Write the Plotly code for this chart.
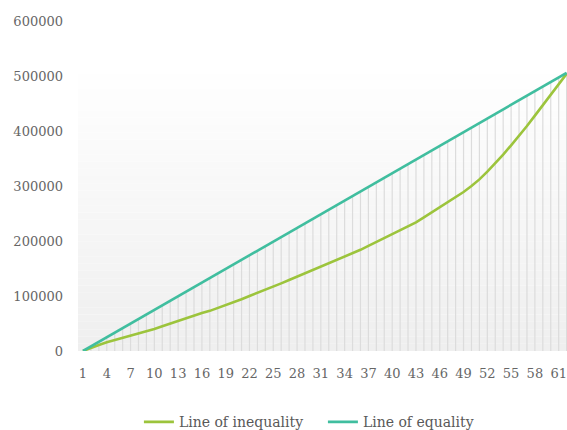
import plotly.graph_objects as go

# Cumulative income by person (1..62)
people = list(range(1, 63))

inequality = [
    0, 6000, 11000, 16000, 20000, 24000, 28000, 31000, 35000, 40000,
    45000, 50000, 54000, 59000, 64000, 69000, 73000, 78000, 83000, 88000,
    94000, 100000, 105500, 111000, 117000, 123000, 129000, 135000, 141000, 147000,
    153000, 159000, 165000, 171000, 178000, 184000, 191000, 198000, 205000, 212000,
    219000, 226000, 234000, 243000, 252000, 261000, 270000, 279000, 289000, 300000,
    312000, 326000, 341000, 357000, 374000, 391000, 409000, 428000, 447000, 466000,
    485000, 504000,
]

equality = [
    0, 8290, 16580, 24870, 33160, 41450, 49740, 58030, 66320, 74610,
    82900, 91190, 99480, 107770, 116060, 124350, 132640, 140930, 149220, 157510,
    165800, 174090, 182380, 190670, 198960, 207250, 215540, 223830, 232120, 240410,
    248700, 256990, 265280, 273570, 281860, 290150, 298440, 306730, 315020, 323310,
    331600, 339890, 348180, 356470, 364760, 373050, 381340, 389630, 397920, 406210,
    414500, 422790, 431080, 439370, 447660, 455950, 464240, 472530, 480820, 489110,
    497400, 505690,
]

x_ticks = list(range(1, 63, 3))
y_ticks = [0, 100000, 200000, 300000, 400000, 500000, 600000]

FONT = "DejaVu Serif"
GREEN = "#9cc43c"
TEAL = "#40be9f"

fig = go.Figure()

# drop lines from the equality line down to zero
fig.add_trace(go.Scatter(
    x=people, y=equality, mode="lines",
    line=dict(color="rgba(0,0,0,0)", width=1),
    error_y=dict(type="data", symmetric=False,
                 array=[0] * len(equality), arrayminus=equality,
                 color="#dcdcdc", thickness=1.2, width=0),
    showlegend=False, hoverinfo="skip",
))

fig.add_trace(go.Scatter(
    x=people, y=inequality, mode="lines", name="Line of inequality",
    line=dict(color=GREEN, width=2.6),
))
fig.add_trace(go.Scatter(
    x=people, y=equality, mode="lines", name="Line of equality",
    line=dict(color=TEAL, width=2.6),
))

# soft vertical gradient behind the plot
shapes = []
n_bands = 40
top = 530000
for i in range(n_bands):
    y0 = top * i / n_bands
    y1 = top * (i + 1) / n_bands
    frac = i / (n_bands - 1)
    g = int(round(239 + (255 - 239) * frac))
    shapes.append(dict(
        type="rect", xref="paper", yref="y", x0=0, x1=1, y0=y0, y1=y1,
        fillcolor=f"rgb({g},{g},{g})", line=dict(width=0), layer="below",
    ))

fig.update_layout(
    width=567, height=430,
    margin=dict(l=78, r=0, t=21, b=79, autoexpand=False),
    paper_bgcolor="white", plot_bgcolor="white",
    shapes=shapes,
    showlegend=True,
    legend=dict(orientation="h", xref="container", yref="container",
                x=0.245, xanchor="left", y=0.018, yanchor="middle",
                font=dict(family=FONT, size=14, color="#595959"),
                itemwidth=30, entrywidth=139, entrywidthmode="pixels",
                bgcolor="rgba(0,0,0,0)"),
    font=dict(family=FONT, size=13, color="#666666"),
)

fig.update_xaxes(
    range=[0.37, 62.05], tickmode="array", tickvals=x_ticks,
    ticktext=[str(v) for v in x_ticks],
    showgrid=False, zeroline=False, showline=False, ticks="",
    ticklabelstandoff=13,
    tickfont=dict(family=FONT, size=13, color="#666666"),
)
fig.update_yaxes(
    range=[0, 600000], tickmode="array", tickvals=y_ticks,
    ticktext=[str(v) for v in y_ticks],
    showgrid=False, zeroline=False, showline=False, ticks="",
    ticklabelstandoff=14,
    tickfont=dict(family=FONT, size=13, color="#666666"),
)

fig.write_html("out.html")
